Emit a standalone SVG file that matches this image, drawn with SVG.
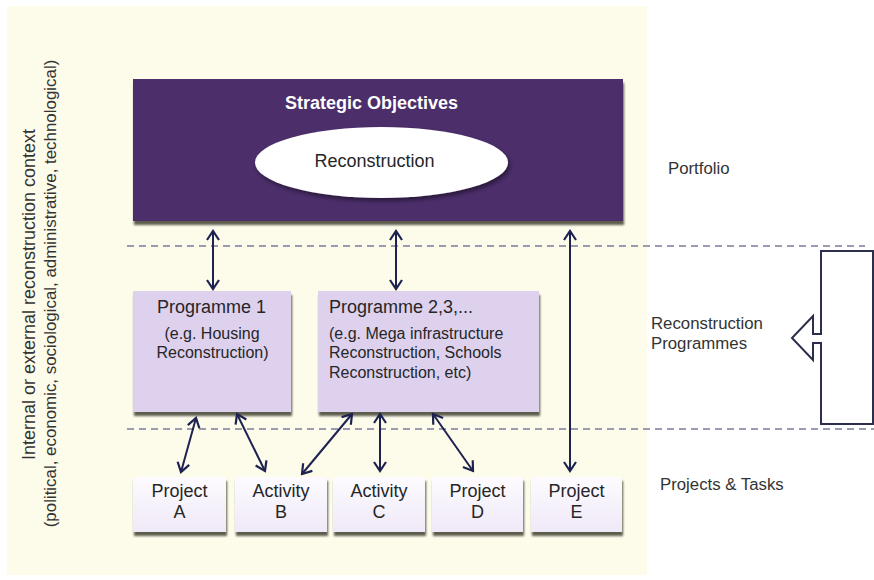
<svg xmlns="http://www.w3.org/2000/svg" width="874" height="580" viewBox="0 0 874 580">
  <defs>
    <style>
      text { font-family: "Liberation Sans", Arial, sans-serif; fill: #262626; }
      .title { font-size: 18px; font-weight: bold; fill: #ffffff; }
      .head { font-size: 18px; }
      .sub { font-size: 16px; }
      .side { font-size: 16.8px; fill: #333333; }
      .ctx1 { font-size: 18px; fill: #333333; }
      .ctx2 { font-size: 16.9px; fill: #333333; }
      .dash { stroke: #7b7b9c; stroke-width: 1.4; stroke-dasharray: 7 5; fill: none; }
      .link { stroke: #1d2250; stroke-width: 2; fill: none; marker-start: url(#chev); marker-end: url(#chev); }
      .prog { fill: #ddd1ee; }
      .task { fill: url(#taskFill); }
    </style>
    <linearGradient id="taskFill" x1="0" y1="0" x2="0" y2="1">
      <stop offset="0" stop-color="#fdfbff"/>
      <stop offset="1" stop-color="#efe9f7"/>
    </linearGradient>
    <filter id="shadow" x="-10%" y="-10%" width="125%" height="135%">
      <feDropShadow dx="1" dy="4" stdDeviation="1.2" flood-color="#2b2a1e" flood-opacity="0.75"/>
    </filter>
    <filter id="softShadow" x="-10%" y="-10%" width="125%" height="135%">
      <feDropShadow dx="2" dy="3" stdDeviation="2" flood-color="#000000" flood-opacity="0.45"/>
    </filter>
    <marker id="chev" viewBox="-11 -8 13 16" markerWidth="13" markerHeight="16" refX="0" refY="0" orient="auto-start-reverse" markerUnits="userSpaceOnUse">
      <path d="M-9,-6 L0,0 L-9,6" fill="none" stroke="#1d2250" stroke-width="2.2" stroke-linejoin="miter"/>
    </marker>
  </defs>

  <!-- page and context panel -->
  <rect x="0" y="0" width="874" height="580" fill="#ffffff"/>
  <rect x="7" y="6" width="640" height="569" fill="#fdfbea"/>

  <!-- context caption, written bottom-to-top -->
  <g id="context">
    <text class="ctx1" transform="translate(35,294.5) rotate(-90)" text-anchor="middle">Internal or external reconstruction context</text>
    <text class="ctx2" transform="translate(56,293.5) rotate(-90)" text-anchor="middle">(political, economic, sociological, administrative, technological)</text>
  </g>

  <!-- level separators -->
  <g id="separators">
    <line class="dash" x1="127" y1="246" x2="865" y2="246"/>
    <line class="dash" x1="127" y1="429" x2="874" y2="429"/>
  </g>

  <!-- portfolio level -->
  <g id="strategic-objectives">
    <rect x="133" y="79" width="490" height="142" fill="#4c2d6b" filter="url(#shadow)"/>
    <text class="title" x="371.5" y="109" text-anchor="middle">Strategic Objectives</text>
  </g>
  <g id="reconstruction">
    <ellipse cx="381.5" cy="162.5" rx="126.5" ry="35.5" fill="#ffffff" filter="url(#softShadow)"/>
    <text class="head" x="374.5" y="167" text-anchor="middle">Reconstruction</text>
  </g>

  <!-- programme level -->
  <g id="programme-1">
    <rect class="prog" x="133" y="291" width="158" height="121" filter="url(#shadow)"/>
    <text class="head" x="211.5" y="313" text-anchor="middle">Programme 1</text>
    <text class="sub" x="212" y="339" text-anchor="middle">(e.g. Housing</text>
    <text class="sub" x="212.5" y="358" text-anchor="middle">Reconstruction)</text>
  </g>
  <g id="programme-2">
    <rect class="prog" x="318" y="291" width="221" height="121" filter="url(#shadow)"/>
    <text class="head" x="329" y="313">Programme 2,3,...</text>
    <text class="sub" x="329" y="339">(e.g. Mega infrastructure</text>
    <text class="sub" x="329" y="358">Reconstruction, Schools</text>
    <text class="sub" x="329" y="378">Reconstruction, etc)</text>
  </g>

  <!-- project / task level -->
  <g id="project-a">
    <rect class="task" x="133" y="477" width="93" height="55" filter="url(#shadow)"/>
    <text class="head" x="179.5" y="497" text-anchor="middle">Project</text>
    <text class="head" x="179.5" y="518" text-anchor="middle">A</text>
  </g>
  <g id="activity-b">
    <rect class="task" x="235" y="477" width="92" height="55" filter="url(#shadow)"/>
    <text class="head" x="281" y="497" text-anchor="middle">Activity</text>
    <text class="head" x="281" y="518" text-anchor="middle">B</text>
  </g>
  <g id="activity-c">
    <rect class="task" x="333" y="477" width="92" height="55" filter="url(#shadow)"/>
    <text class="head" x="379" y="497" text-anchor="middle">Activity</text>
    <text class="head" x="379" y="518" text-anchor="middle">C</text>
  </g>
  <g id="project-d">
    <rect class="task" x="432" y="477" width="91" height="55" filter="url(#shadow)"/>
    <text class="head" x="477.5" y="497" text-anchor="middle">Project</text>
    <text class="head" x="477.5" y="518" text-anchor="middle">D</text>
  </g>
  <g id="project-e">
    <rect class="task" x="531" y="477" width="91" height="55" filter="url(#shadow)"/>
    <text class="head" x="576.5" y="497" text-anchor="middle">Project</text>
    <text class="head" x="576.5" y="518" text-anchor="middle">E</text>
  </g>

  <!-- two-way links between levels -->
  <g id="connectors">
    <line class="link" x1="213" y1="231" x2="213" y2="289"/>
    <line class="link" x1="396" y1="231" x2="396" y2="289"/>
    <line class="link" x1="570" y1="231" x2="570" y2="471"/>
    <line class="link" x1="196" y1="418" x2="181" y2="472"/>
    <line class="link" x1="237" y1="414" x2="265" y2="471"/>
    <line class="link" x1="352" y1="414" x2="302" y2="474"/>
    <line class="link" x1="380" y1="414" x2="380" y2="471"/>
    <line class="link" x1="433" y1="414" x2="473" y2="471"/>
  </g>

  <!-- level labels -->
  <g id="level-labels">
    <text class="side" x="668" y="174">Portfolio</text>
    <text class="side" x="651" y="329">Reconstruction</text>
    <text class="side" x="651" y="349">Programmes</text>
    <text class="side" x="660" y="490">Projects &amp; Tasks</text>
  </g>

  <!-- bracket callout pointing at the programme level -->
  <g id="programme-callout">
    <path d="M873,251 L821,251 L821,334 L813,334 L813,316 L792,338 L813,360 L813,343 L821,343 L821,424 L873,424 Z" fill="#ffffff" stroke="#2b2e4c" stroke-width="2" stroke-linejoin="miter"/>
  </g>
</svg>
